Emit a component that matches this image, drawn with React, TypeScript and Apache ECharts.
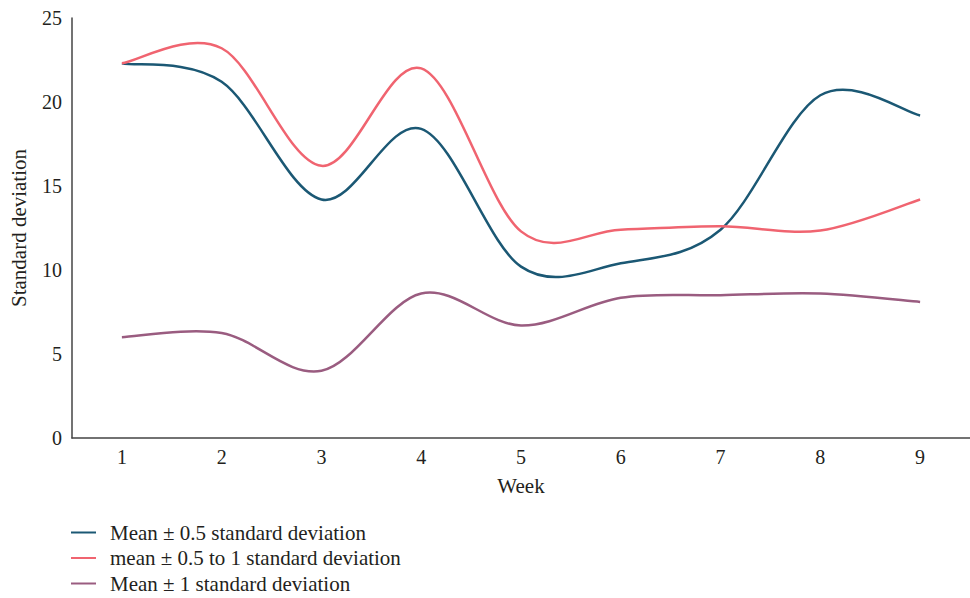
import React, { useEffect, useRef } from "react";
import * as echarts from "echarts";

const weeks = ["1", "2", "3", "4", "5", "6", "7", "8", "9"];
const seriesNames = [
  "Mean ± 0.5 standard deviation",
  "mean ± 0.5 to 1 standard deviation",
  "Mean ± 1 standard deviation",
];
const halfSd = [22.3, 21.2, 14.2, 18.4, 10.2, 10.4, 12.4, 20.4, 19.2];
const halfToOneSd = [22.3, 23.2, 16.2, 22.0, 12.3, 12.4, 12.6, 12.35, 14.2];
const oneSd = [6.0, 6.25, 4.0, 8.6, 6.7, 8.35, 8.5, 8.6, 8.1];
const colors = ["#1b5874", "#f06470", "#9a5c80"];

const FONT = "'Liberation Serif', 'DejaVu Serif', serif";
const TEXT_COLOR = "#231f20";

function catmullPath(pts: number[][]): string {
  if (pts.length === 0) return "";
  let d = `M ${pts[0][0]} ${pts[0][1]}`;
  const n = pts.length;
  for (let i = 0; i < n - 1; i++) {
    const p0 = pts[Math.max(0, i - 1)];
    const p1 = pts[i];
    const p2 = pts[i + 1];
    const p3 = pts[Math.min(n - 1, i + 2)];
    const c1x = p1[0] + (p2[0] - p0[0]) / 6;
    const c1y = p1[1] + (p2[1] - p0[1]) / 6;
    const c2x = p2[0] - (p3[0] - p1[0]) / 6;
    const c2y = p2[1] - (p3[1] - p1[1]) / 6;
    d += ` C ${c1x} ${c1y} ${c2x} ${c2y} ${p2[0]} ${p2[1]}`;
  }
  return d;
}

export default function App() {
  const ref = useRef<HTMLDivElement>(null);
  useEffect(() => {
    if (!ref.current) return;
    const chart = echarts.init(ref.current, undefined, { renderer: "svg" });
    const values = [halfSd, halfToOneSd, oneSd];
    const legendTops = [522, 547.5, 573];
    chart.setOption({
      animation: false,
      textStyle: { fontFamily: FONT },
      grid: { left: 72, top: 18, width: 907, height: 420, containLabel: false },
      legend: seriesNames.map((name, i) => ({
        orient: "vertical",
        left: 71,
        top: legendTops[i],
        padding: 0,
        icon: "rect",
        itemWidth: 25,
        itemHeight: 2,
        textStyle: {
          fontFamily: FONT,
          fontSize: 21,
          color: TEXT_COLOR,
          padding: [0, 0, 0, 9],
        },
        data: [name],
      })),
      xAxis: {
        type: "category",
        data: weeks,
        boundaryGap: true,
        name: "Week",
        nameLocation: "middle",
        nameGap: 37,
        nameTextStyle: { fontFamily: FONT, fontSize: 21, color: TEXT_COLOR },
        axisLine: { lineStyle: { color: "#444", width: 1.5 } },
        axisTick: { show: false },
        axisLabel: { fontFamily: FONT, fontSize: 20, color: TEXT_COLOR, margin: 9 },
        splitLine: { show: false },
      },
      yAxis: {
        type: "value",
        min: 0,
        max: 25,
        interval: 5,
        name: "Standard deviation",
        nameLocation: "middle",
        nameGap: 43,
        nameTextStyle: { fontFamily: FONT, fontSize: 21, color: TEXT_COLOR },
        axisLine: { show: true, lineStyle: { color: "#444", width: 1.5 } },
        axisTick: { show: false },
        axisLabel: { fontFamily: FONT, fontSize: 20, color: TEXT_COLOR, margin: 10 },
        splitLine: { show: false },
      },
      series: seriesNames.map((name, i) => ({
        name,
        type: "custom",
        data: values[i].map((v, k) => [k, v]),
        encode: { x: 0, y: 1 },
        itemStyle: { color: colors[i] },
        renderItem: (params: any, api: any) => {
          if (params.dataIndex !== 0) return null;
          const pts = values[i].map((v, k) => api.coord([k, v]));
          return {
            type: "path",
            shape: { pathData: catmullPath(pts) },
            style: { fill: "none", stroke: colors[i], lineWidth: 2.5 },
          };
        },
      })),
    });
    return () => chart.dispose();
  }, []);
  return (
    <div
      ref={ref}
      style={{ position: "absolute", left: 0, top: 0, width: 970, height: 598 }}
    />
  );
}
